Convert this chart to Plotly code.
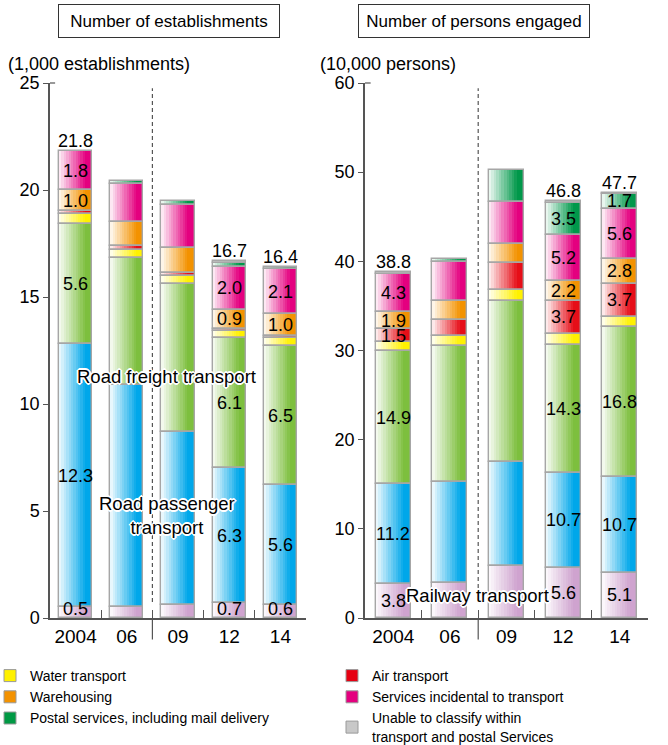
import numpy as np
import plotly.graph_objects as go

# ---------------- data ----------------
years = ["2004", "06", "09", "12", "14"]

series_names = [
    "Railway transport",
    "Road passenger transport",
    "Road freight transport",
    "Water transport",
    "Air transport",
    "Warehousing",
    "Services incidental to transport",
    "Postal services, including mail delivery",
    "Unable to classify within<br>transport and postal Services",
]

# Number of establishments (1,000 establishments)
est_railway = [0.5, 0.5, 0.6, 0.7, 0.6]
est_road_passenger = [12.3, 10.4, 8.1, 6.3, 5.6]
est_road_freight = [5.6, 5.9, 6.9, 6.1, 6.5]
est_water = [0.5, 0.4, 0.4, 0.3, 0.4]
est_air = [0.1, 0.2, 0.1, 0.1, 0.1]
est_warehousing = [1.0, 1.1, 1.2, 0.9, 1.0]
est_services = [1.8, 1.8, 2.0, 2.0, 2.1]
est_postal = [0.0, 0.1, 0.2, 0.2, 0.1]
est_unclassified = [0.0, 0.0, 0.0, 0.1, 0.0]
est_totals = [21.8, None, None, 16.7, 16.4]

# Number of persons engaged (10,000 persons)
per_railway = [3.8, 3.9, 5.8, 5.6, 5.1]
per_road_passenger = [11.2, 11.3, 11.7, 10.7, 10.7]
per_road_freight = [14.9, 15.3, 18.0, 14.3, 16.8]
per_water = [1.0, 1.1, 1.3, 1.3, 1.2]
per_air = [1.5, 1.8, 3.0, 3.7, 3.7]
per_warehousing = [1.9, 2.1, 2.2, 2.2, 2.8]
per_services = [4.3, 4.4, 4.7, 5.2, 5.6]
per_postal = [0.0, 0.4, 3.5, 3.5, 1.7]
per_unclassified = [0.2, 0.0, 0.0, 0.3, 0.1]
per_totals = [38.8, None, None, 46.8, 47.7]

# which segments carry a printed value (series index -> year positions)
est_labelled = {0: [0, 3, 4], 1: [0, 3, 4], 2: [0, 3, 4], 5: [0, 3, 4], 6: [0, 3, 4]}
per_labelled = {0: [0, 3, 4], 1: [0, 3, 4], 2: [0, 3, 4], 4: [0, 3, 4],
                5: [0, 3, 4], 6: [0, 3, 4], 7: [3, 4]}

# ---------------- styling ----------------
end_colors = ["#cfa3cf", "#00a7ea", "#7dbf3e", "#fff100", "#e60e18",
              "#f39200", "#e4007f", "#00984a", "#c4c4c4"]
legend_colors = {3: "#fff100", 4: "#e60012", 5: "#f39200", 6: "#e4007f",
                 7: "#009944", 8: "#c8c8c8"}
OUTLINE = "#a6a6a6"
AXIS = "#555555"
FONT = "Liberation Sans, Arial, sans-serif"
N_SLICES = 14

W, H = 668, 745


def hex_rgb(h):
    h = h.lstrip("#")
    return tuple(int(h[i:i + 2], 16) for i in (0, 2, 4))


def shade(color, t):
    r, g, b = hex_rgb(color)
    t = max(0.0, min(1.0, t))
    return "rgb(%d,%d,%d)" % (round(255 + (r - 255) * t),
                              round(255 + (g - 255) * t),
                              round(255 + (b - 255) * t))


panels = [
    dict(values=[est_railway, est_road_passenger, est_road_freight, est_water, est_air,
                 est_warehousing, est_services, est_postal, est_unclassified],
         totals=est_totals, labelled=est_labelled, xa="x", ya="y",
         width=0.645, px_unit=535 / 25),
    dict(values=[per_railway, per_road_passenger, per_road_freight, per_water, per_air,
                 per_warehousing, per_services, per_postal, per_unclassified],
         totals=per_totals, labelled=per_labelled, xa="x2", ya="y2",
         width=0.62, px_unit=536 / 60),
]

fig = go.Figure()
annotations = []

for p in panels:
    vals = np.array(p["values"], dtype=float)          # series x years
    bases = np.vstack([np.zeros(len(years)), np.cumsum(vals, axis=0)[:-1]])
    xs, ys, bs, cols = [], [], [], []
    for s in range(vals.shape[0]):
        for j, yr in enumerate(years):
            if vals[s, j] > 0:
                xs.append(yr)
                ys.append(float(vals[s, j]))
                bs.append(float(bases[s, j]))
                cols.append(s)
    w = p["width"]
    # horizontal white-to-colour gradient built from thin slices
    for k in range(N_SLICES):
        t = 0.05 + (k + 0.5) / N_SLICES / 0.85
        slice_w = w / N_SLICES
        fig.add_trace(go.Bar(
            x=xs, y=ys, base=bs,
            width=slice_w * (1.6 if k < N_SLICES - 1 else 1.0),
            offset=-w / 2 + k * slice_w,
            marker=dict(color=[shade(end_colors[c], t) for c in cols], line_width=0),
            xaxis=p["xa"], yaxis=p["ya"], showlegend=False, hoverinfo="skip",
        ))
    # segment outlines
    fig.add_trace(go.Bar(
        x=xs, y=ys, base=bs, width=w, offset=-w / 2,
        marker=dict(color="rgba(0,0,0,0)", line=dict(color=OUTLINE, width=1.4)),
        xaxis=p["xa"], yaxis=p["ya"], showlegend=False, hoverinfo="skip",
    ))
    # values printed inside segments (x given as category position)
    half_h = 9.5 / p["px_unit"]
    for s, idxs in p["labelled"].items():
        for j in idxs:
            v = float(vals[s, j])
            yc = max(float(bases[s, j]) + v / 2, half_h)
            annotations.append(dict(
                x=j, y=yc, xref=p["xa"], yref=p["ya"], text=f"{v:.1f}",
                xanchor="center", yanchor="middle", showarrow=False,
                font=dict(size=18, color="black", family=FONT)))
    # totals above bars
    for j, tot in enumerate(p["totals"]):
        if tot is not None:
            annotations.append(dict(
                x=j, y=tot, xref=p["xa"], yref=p["ya"], text=f"{tot:.1f}",
                xanchor="center", yanchor="bottom", showarrow=False, yshift=-2,
                font=dict(size=18, color="black", family=FONT)))

# legend swatches (two columns)
left_col = [3, 5, 7]
right_col = [4, 6, 8]
for col, lg in ((left_col, "legend"), (right_col, "legend2")):
    for s in col:
        fig.add_trace(go.Bar(
            x=[None], y=[None], name=series_names[s], legend=lg,
            marker=dict(color=legend_colors[s], line=dict(color="#9a9a9a", width=1)),
            xaxis="x", yaxis="y", hoverinfo="skip",
        ))

# white halo for the in-chart category labels
halo = ("-1px -1px 0 white, 1px -1px 0 white, -1px 1px 0 white, 1px 1px 0 white, "
        "0 -2px 0 white, 0 2px 0 white, -2px 0 0 white, 2px 0 0 white")
for text, x, y, xr, yr in (
        ("Road freight transport", 1.78, 11.3, "x", "y"),
        ("Road passenger<br>transport", 1.78, 4.8, "x", "y"),
        ("Railway transport", 1.48, 2.5, "x2", "y2")):
    annotations.append(dict(
        x=x, y=y, xref=xr, yref=yr, text=text, showarrow=False,
        xanchor="center", yanchor="middle",
        font=dict(size=18.5, color="black", family=FONT, shadow=halo)))

# boxed panel titles and unit captions
annotations += [
    dict(x=169 / W, y=1 - 21 / H, xref="paper", yref="paper", text="Number of establishments",
         xanchor="center", yanchor="middle", showarrow=False, bordercolor="#333",
         borderwidth=1, borderpad=5, width=210, height=22,
         font=dict(size=17, color="black", family=FONT)),
    dict(x=474 / W, y=1 - 21 / H, xref="paper", yref="paper", text="Number of persons engaged",
         xanchor="center", yanchor="middle", showarrow=False, bordercolor="#333",
         borderwidth=1, borderpad=5, width=220, height=22,
         font=dict(size=17, color="black", family=FONT)),
    dict(x=6 / W, y=1 - 64 / H, xref="paper", yref="paper", text="(1,000 establishments)",
         xanchor="left", yanchor="middle", showarrow=False,
         font=dict(size=18, color="black", family=FONT)),
    dict(x=318 / W, y=1 - 64 / H, xref="paper", yref="paper", text="(10,000 persons)",
         xanchor="left", yanchor="middle", showarrow=False,
         font=dict(size=18, color="black", family=FONT)),
]

# period divider between 06 and 09, plus the small cap at the top of each y axis
shapes = []
for xr in ("x", "x2"):
    yd = "y domain" if xr == "x" else "y2 domain"
    shapes.append(dict(type="line", xref=xr, yref=yd, x0=1.5, x1=1.5, y0=0.03, y1=0.99,
                       line=dict(color=AXIS, width=1.2, dash="4px,3px")))
    shapes.append(dict(type="line", xref=xr, yref=yd, x0=1.5, x1=1.5, y0=0, y1=-0.04,
                       line=dict(color=AXIS, width=1.2)))
    shapes.append(dict(type="line", xref=xr + " domain", yref=yd, x0=0, x1=0.02, y0=1, y1=1,
                       line=dict(color=AXIS, width=1.2)))

y_dom = [1 - 618 / H, 1 - 83 / H]
xaxis_common = dict(type="category", categoryorder="array", categoryarray=years,
                    range=[-0.5, 4.5], showline=True, linecolor=AXIS, linewidth=1.5,
                    ticks="inside", tickson="boundaries", ticklen=8, tickcolor=AXIS,
                    tickwidth=1.2, showgrid=False, zeroline=False, tickangle=0,
                    tickfont=dict(size=19, color="black", family=FONT), fixedrange=True)
yaxis_common = dict(showline=True, linecolor=AXIS, linewidth=1.5, ticks="outside",
                    ticklen=5, tickcolor=AXIS, tickwidth=1.2, showgrid=False, zeroline=False,
                    tickfont=dict(size=18, color="black", family=FONT), fixedrange=True)

legend_common = dict(yanchor="top", xanchor="left", bgcolor="rgba(0,0,0,0)",
                     tracegroupgap=0, itemclick=False,
                     font=dict(size=14, color="black", family=FONT))

fig.update_layout(
    width=W, height=H,
    margin=dict(l=0, r=0, t=0, b=0, autoexpand=False),
    paper_bgcolor="white", plot_bgcolor="rgba(0,0,0,0)",
    barmode="overlay", bargap=0,
    font=dict(family=FONT, color="black"),
    xaxis=dict(domain=[50 / W, 306 / W], anchor="y", **xaxis_common),
    yaxis=dict(domain=y_dom, anchor="x", range=[0, 25], dtick=5, **yaxis_common),
    xaxis2=dict(domain=[365 / W, 648 / W], anchor="y2", **xaxis_common),
    yaxis2=dict(domain=y_dom, anchor="x2", range=[0, 60], dtick=10, **yaxis_common),
    annotations=annotations,
    shapes=shapes,
    legend=dict(x=-10 / W, y=1 - 660 / H, **legend_common),
    legend2=dict(x=332 / W, y=1 - 660 / H, **legend_common),
)

fig.write_html("out.html")
